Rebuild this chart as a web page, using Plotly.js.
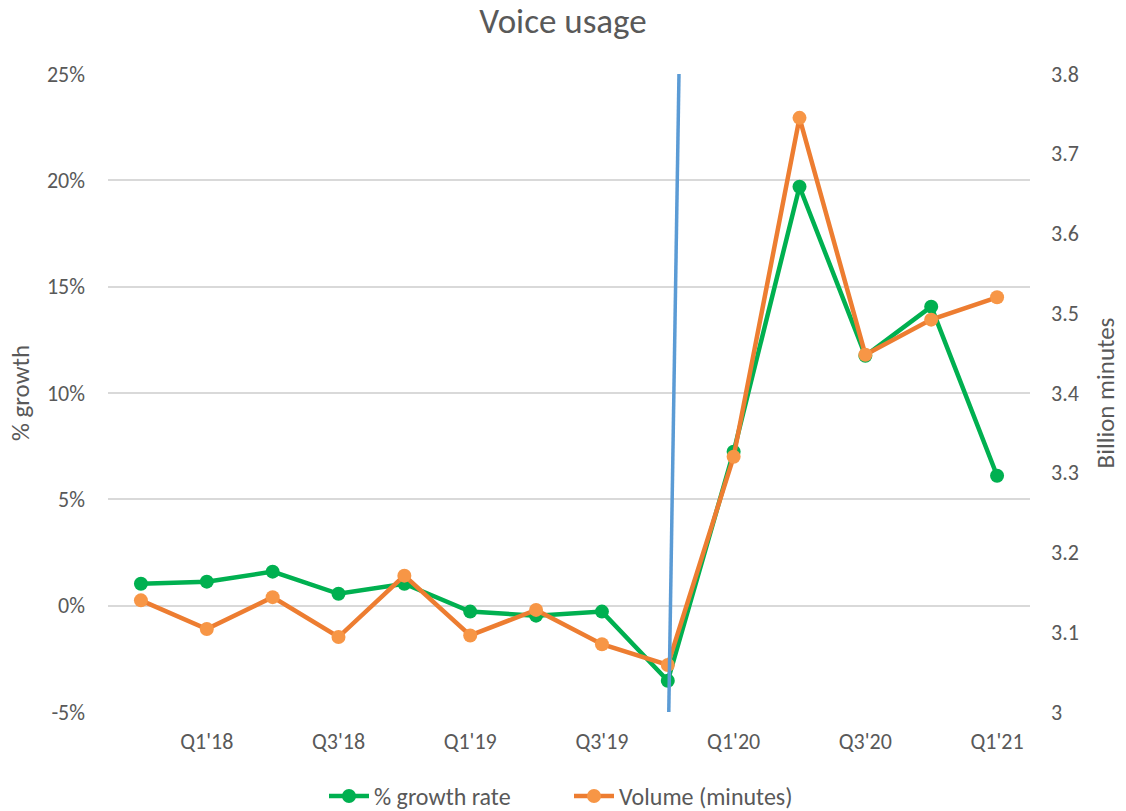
<!DOCTYPE html>
<html>
<head>
<meta charset="utf-8">
<script src="https://cdn.plot.ly/plotly-3.0.1.min.js"></script>
<style>html,body{margin:0;padding:0;background:#fff;}#chart{width:1126px;height:811px;}</style>
</head>
<body>
<div id="chart"></div>
<script>
const quarters = ["Q4'17","Q1'18","Q2'18","Q3'18","Q4'18","Q1'19","Q2'19","Q3'19","Q4'19","Q1'20","Q2'20","Q3'20","Q4'20","Q1'21"];
const growthRate = [1.03, 1.13, 1.6, 0.56, 1.03, -0.28, -0.47, -0.28, -3.53, 7.24, 19.7, 11.75, 14.06, 6.11];
const volume = [3.140, 3.104, 3.144, 3.094, 3.171, 3.096, 3.128, 3.085, 3.059, 3.320, 3.745, 3.448, 3.492, 3.520];
const tickQuarters = ["Q1'18","Q3'18","Q1'19","Q3'19","Q1'20","Q3'20","Q1'21"];
const leftTicks = [-5, 0, 5, 10, 15, 20, 25];
const leftTickText = ["-5%","0%","5%","10%","15%","20%","25%"];
const rightTicks = [3, 3.1, 3.2, 3.3, 3.4, 3.5, 3.6, 3.7, 3.8];
const rightTickText = ["3","3.1","3.2","3.3","3.4","3.5","3.6","3.7","3.8"];
// marker line between Q4'19 and Q1'20 (category index positions)
const markerLineTop = 8.17, markerLineBottom = 8.015;

const font = "Carlito, Calibri, Lato, 'Open Sans', sans-serif";
const textColor = "#595959";

const traces = [
  {x: quarters, y: growthRate, name: "% growth rate", type: "scatter", mode: "lines+markers",
   line: {color: "#00B050", width: 4.5}, marker: {color: "#00B050", size: 14}, yaxis: "y"},
  {x: quarters, y: volume, name: "Volume (minutes)", type: "scatter", mode: "lines+markers",
   line: {color: "#ED7D31", width: 4.5}, marker: {color: "#F79646", size: 14}, yaxis: "y2"}
];

const layout = {
  width: 1126, height: 811,
  margin: {l: 108, r: 96, t: 74, b: 99, autoexpand: false},
  paper_bgcolor: "#fff", plot_bgcolor: "#fff",
  font: {family: font, color: textColor, size: 22},
  title: {text: "Voice usage", font: {size: 35, color: textColor, family: font}, x: 0.5, xanchor: "center", y: 0.975, yanchor: "middle"},
  xaxis: {type: "category", range: [-0.5, 13.5], tickmode: "array", tickvals: tickQuarters, ticktext: tickQuarters,
    showgrid: false, zeroline: false, showline: false, ticks: "", tickfont: {size: 22, color: textColor}, automargin: false,
    ticklabelstandoff: 14},
  yaxis: {range: [-5, 25], tickmode: "array", tickvals: leftTicks, ticktext: leftTickText,
    showgrid: true, gridcolor: "#D9D9D9", gridwidth: 2, zeroline: false, showline: false, ticks: "", automargin: false,
    ticklabelstandoff: 22,
    title: {text: "% growth", font: {size: 25, color: textColor}, standoff: 10}, tickfont: {size: 22, color: textColor}},
  yaxis2: {range: [3, 3.8], overlaying: "y", side: "right", tickmode: "array", tickvals: rightTicks, ticktext: rightTickText,
    showgrid: false, zeroline: false, showline: false, ticks: "", automargin: false,
    ticklabelstandoff: 20,
    title: {text: "Billion minutes", font: {size: 25, color: textColor}, standoff: 18}, tickfont: {size: 22, color: textColor}},
  legend: {orientation: "h", x: 0.5, xanchor: "center", yref: "container", y: 0.018, yanchor: "middle",
    font: {size: 24, color: textColor}, itemwidth: 40, entrywidth: 190, entrywidthmode: "pixels"},
  showlegend: true,
  shapes: [{type: "line", xref: "x", yref: "paper", x0: markerLineTop, y0: 1, x1: markerLineBottom, y1: 0,
    line: {color: "#5B9BD5", width: 3.5}, layer: "above"}]
};

Plotly.newPlot("chart", traces, layout, {displayModeBar: false, staticPlot: true});
</script>
</body>
</html>
